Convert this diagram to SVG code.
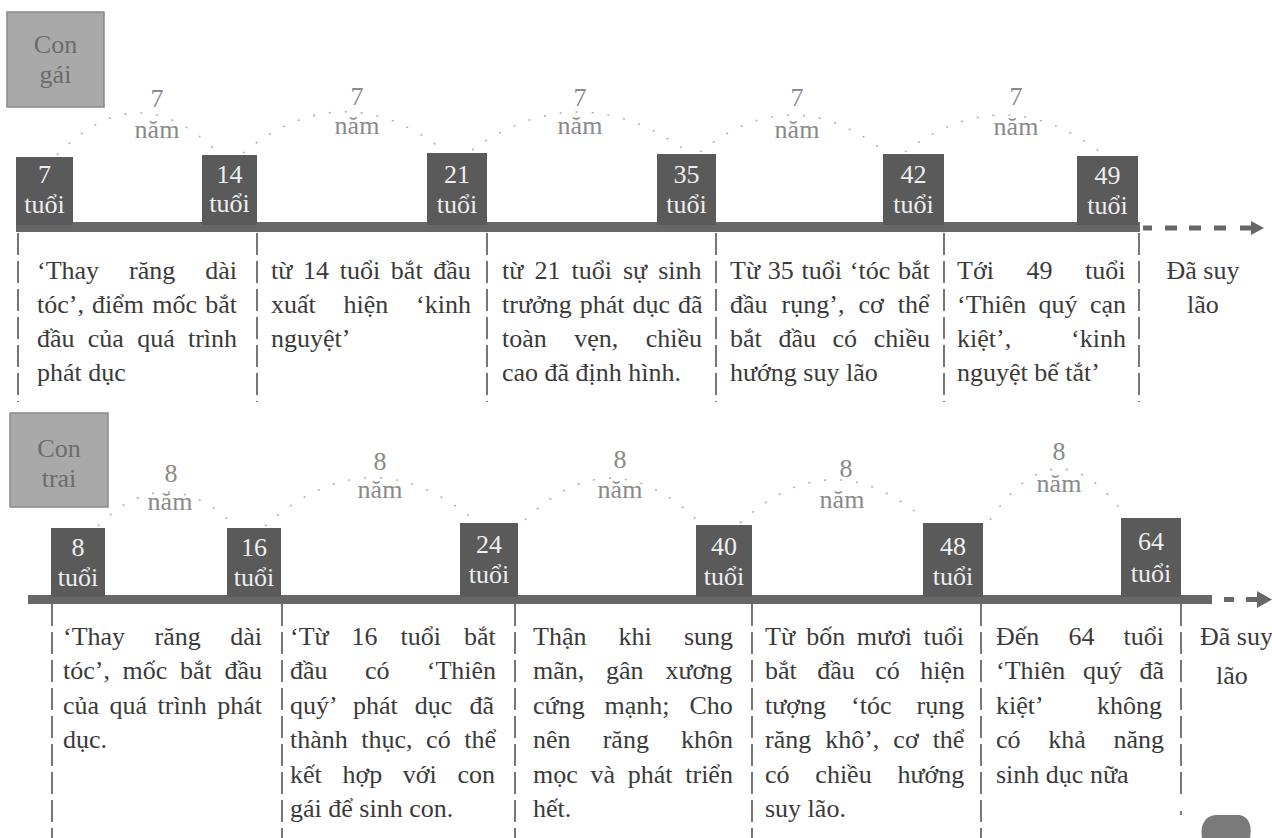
<svg xmlns="http://www.w3.org/2000/svg" width="1272" height="838" viewBox="0 0 1272 838">
<style>
text{font-family:"Liberation Serif","Times New Roman",serif;font-size:26px}
.side{fill:#a9a9a9;stroke:#8a8a8a;stroke-width:1.5}
.sidet{fill:#6c6c6c;text-anchor:middle}
.age{fill:#5a5a5a}
.aget{fill:#eeeeee;text-anchor:middle}
.bar{fill:#676767}
.lbl{fill:#8a8a8a;text-anchor:middle}
.desc text{fill:#3a3a3a}
.div{stroke:#555;stroke-width:1.6;stroke-dasharray:22 6;fill:none}
.arc{fill:none;stroke:#a8a8a8;stroke-width:1.4;stroke-dasharray:2 14}
</style>

<g id="connectors">
  <!-- row 1 timeline -->
  <rect class="bar" x="16" y="222" width="1124" height="10"/>
  <rect class="bar" x="1143" y="225.5" width="9" height="5"/>
  <rect class="bar" x="1165" y="225.5" width="12" height="5"/>
  <rect class="bar" x="1189" y="225.5" width="12" height="5"/>
  <rect class="bar" x="1214" y="225.5" width="12" height="5"/>
  <polygon class="bar" points="1240,225.5 1251,225.5 1251,221 1264,228 1251,235 1251,230.5 1240,230.5"/>
  <!-- row 2 timeline -->
  <rect class="bar" x="28" y="595" width="1184" height="9"/>
  <rect class="bar" x="1224" y="597" width="10" height="5"/>
  <polygon class="bar" points="1246,597 1257,597 1257,591 1272,599.5 1257,608 1257,602 1246,602"/>
  <!-- row 1 dividers -->
  <line class="div" x1="18" y1="233" x2="18" y2="402"/>
  <line class="div" x1="257" y1="233" x2="257" y2="402"/>
  <line class="div" x1="487" y1="233" x2="487" y2="402"/>
  <line class="div" x1="716" y1="233" x2="716" y2="402"/>
  <line class="div" x1="944" y1="233" x2="944" y2="402"/>
  <line class="div" x1="1139" y1="233" x2="1139" y2="402"/>
  <!-- row 2 dividers -->
  <line class="div" x1="52" y1="604" x2="52" y2="838"/>
  <line class="div" x1="282" y1="604" x2="282" y2="838"/>
  <line class="div" x1="515" y1="604" x2="515" y2="838"/>
  <line class="div" x1="752" y1="604" x2="752" y2="838"/>
  <line class="div" x1="981" y1="604" x2="981" y2="838"/>
  <line class="div" x1="1181" y1="604" x2="1181" y2="800"/>
  <line class="div" x1="1181" y1="811" x2="1181" y2="815"/>
  <!-- row 1 arcs -->
  <path class="arc" d="M57,155 Q138,72 218,153"/>
  <path class="arc" d="M243,153 Q343,72 443,150"/>
  <path class="arc" d="M472,150 Q578,74 685,150"/>
  <path class="arc" d="M700,152 Q792,78 885,152"/>
  <path class="arc" d="M905,152 Q1003,78 1100,152"/>
  <!-- row 2 arcs -->
  <path class="arc" d="M98,526 Q166,458 235,526"/>
  <path class="arc" d="M265,526 Q370,432 475,521"/>
  <path class="arc" d="M525,520 Q612,435 700,523"/>
  <path class="arc" d="M740,523 Q832,438 925,520"/>
  <path class="arc" d="M990,520 Q1058,420 1125,516"/>
</g>

<g id="girl-label">
  <rect class="side" x="7" y="12" width="97" height="95"/>
  <text class="sidet" x="55.5" y="53">Con</text>
  <text class="sidet" x="55.5" y="83">gái</text>
</g>
<g id="boy-label">
  <rect class="side" x="10" y="413" width="98" height="94"/>
  <text class="sidet" x="59" y="457">Con</text>
  <text class="sidet" x="59" y="487">trai</text>
</g>

<!-- row 1 ages -->
<g id="age-7"><rect class="age" x="16" y="157" width="57" height="68"/><text class="aget" x="44.5" y="183">7</text><text class="aget" x="44.5" y="213">tuổi</text></g>
<g id="age-14"><rect class="age" x="202" y="155" width="55" height="70"/><text class="aget" x="229.5" y="183">14</text><text class="aget" x="229.5" y="212">tuổi</text></g>
<g id="age-21"><rect class="age" x="427" y="153" width="60" height="72"/><text class="aget" x="457" y="183">21</text><text class="aget" x="457" y="213">tuổi</text></g>
<g id="age-35"><rect class="age" x="657" y="154" width="59" height="71"/><text class="aget" x="686.5" y="183">35</text><text class="aget" x="686.5" y="213">tuổi</text></g>
<g id="age-42"><rect class="age" x="883" y="154" width="61" height="71"/><text class="aget" x="913.5" y="183">42</text><text class="aget" x="913.5" y="213">tuổi</text></g>
<g id="age-49"><rect class="age" x="1077" y="156" width="61" height="69"/><text class="aget" x="1107.5" y="184">49</text><text class="aget" x="1107.5" y="214">tuổi</text></g>

<!-- row 2 ages -->
<g id="age-8"><rect class="age" x="51" y="528" width="54" height="69"/><text class="aget" x="78" y="556">8</text><text class="aget" x="78" y="586">tuổi</text></g>
<g id="age-16"><rect class="age" x="227" y="528" width="54" height="69"/><text class="aget" x="254" y="556">16</text><text class="aget" x="254" y="586">tuổi</text></g>
<g id="age-24"><rect class="age" x="460" y="523" width="58" height="74"/><text class="aget" x="489" y="553">24</text><text class="aget" x="489" y="583">tuổi</text></g>
<g id="age-40"><rect class="age" x="696" y="525" width="56" height="72"/><text class="aget" x="724" y="555">40</text><text class="aget" x="724" y="585">tuổi</text></g>
<g id="age-48"><rect class="age" x="923" y="523" width="60" height="74"/><text class="aget" x="953" y="555">48</text><text class="aget" x="953" y="585">tuổi</text></g>
<g id="age-64"><rect class="age" x="1121" y="518" width="60" height="79"/><text class="aget" x="1151" y="550">64</text><text class="aget" x="1151" y="582">tuổi</text></g>

<!-- interval labels -->
<g id="interval-g1"><text class="lbl" x="157" y="107">7</text><text class="lbl" x="157" y="138">năm</text></g>
<g id="interval-g2"><text class="lbl" x="357" y="105">7</text><text class="lbl" x="357" y="134">năm</text></g>
<g id="interval-g3"><text class="lbl" x="580" y="106">7</text><text class="lbl" x="580" y="134">năm</text></g>
<g id="interval-g4"><text class="lbl" x="797" y="106">7</text><text class="lbl" x="797" y="138">năm</text></g>
<g id="interval-g5"><text class="lbl" x="1016" y="105">7</text><text class="lbl" x="1016" y="135">năm</text></g>
<g id="interval-b1"><text class="lbl" x="171" y="482">8</text><text class="lbl" x="170" y="510">năm</text></g>
<g id="interval-b2"><text class="lbl" x="380" y="470">8</text><text class="lbl" x="380" y="498">năm</text></g>
<g id="interval-b3"><text class="lbl" x="620" y="468">8</text><text class="lbl" x="620" y="498">năm</text></g>
<g id="interval-b4"><text class="lbl" x="846" y="477">8</text><text class="lbl" x="842" y="508">năm</text></g>
<g id="interval-b5"><text class="lbl" x="1059" y="460">8</text><text class="lbl" x="1059" y="492">năm</text></g>

<!-- row 1 descriptions -->
<g id="desc-g1" class="desc">
  <text x="37" y="279" word-spacing="23.45">‘Thay răng dài</text>
  <text x="37" y="313" word-spacing="1.67">tóc’, điểm mốc bắt</text>
  <text x="37" y="347" word-spacing="6.77">đầu của quá trình</text>
  <text x="37" y="381">phát dục</text>
</g>
<g id="desc-g2" class="desc">
  <text x="271" y="279" word-spacing="4.2">từ 14 tuổi bắt đầu</text>
  <text x="271" y="313" word-spacing="21.25">xuất hiện ‘kinh</text>
  <text x="271" y="347">nguyệt’</text>
</g>
<g id="desc-g3" class="desc">
  <text x="502" y="279" word-spacing="4.57">từ 21 tuổi sự sinh</text>
  <text x="502" y="313" word-spacing="1.5">trưởng phát dục đã</text>
  <text x="502" y="347" word-spacing="20.95">toàn vẹn, chiều</text>
  <text x="502" y="381">cao đã định hình.</text>
</g>
<g id="desc-g4" class="desc">
  <text x="730" y="279" word-spacing="1.28">Từ 35 tuổi ‘tóc bắt</text>
  <text x="730" y="313" word-spacing="7.53">đầu rụng’, cơ thể</text>
  <text x="730" y="347" word-spacing="10.13">bắt đầu có chiều</text>
  <text x="730" y="381">hướng suy lão</text>
</g>
<g id="desc-g5" class="desc">
  <text x="957" y="279" word-spacing="26.05">Tới 49 tuổi</text>
  <text x="957" y="313" word-spacing="5.8">‘Thiên quý cạn</text>
  <text x="957" y="347" word-spacing="53.4">kiệt’, ‘kinh</text>
  <text x="957" y="381">nguyệt bế tắt’</text>
</g>
<g id="desc-g6" class="desc">
  <text x="1203" y="279" text-anchor="middle">Đã suy</text>
  <text x="1203" y="313" text-anchor="middle">lão</text>
</g>

<!-- row 2 descriptions -->
<g id="desc-b1" class="desc">
  <text x="63" y="645" word-spacing="22.95">‘Thay răng dài</text>
  <text x="63" y="679" word-spacing="6.17">tóc’, mốc bắt đầu</text>
  <text x="63" y="714" word-spacing="4">của quá trình phát</text>
  <text x="63" y="748">dục.</text>
</g>
<g id="desc-b2" class="desc">
  <text x="290" y="645" word-spacing="16.47">‘Từ 16 tuổi bắt</text>
  <text x="290" y="679" word-spacing="30.85">đầu có ‘Thiên</text>
  <text x="290" y="714" word-spacing="10.67">quý’ phát dục đã</text>
  <text x="290" y="748" word-spacing="7.03">thành thục, có thể</text>
  <text x="290" y="783" word-spacing="14.13">kết hợp với con</text>
  <text x="290" y="817">gái để sinh con.</text>
</g>
<g id="desc-b3" class="desc">
  <text x="533" y="645" word-spacing="25.65">Thận khi sung</text>
  <text x="533" y="679" word-spacing="15.3">mãn, gân xương</text>
  <text x="533" y="714" word-spacing="13.45">cứng mạnh; Cho</text>
  <text x="533" y="748" word-spacing="25.65">nên răng khôn</text>
  <text x="533" y="783" word-spacing="6.23">mọc và phát triển</text>
  <text x="533" y="817">hết.</text>
</g>
<g id="desc-b4" class="desc">
  <text x="765" y="645" word-spacing="4.9">Từ bốn mươi tuổi</text>
  <text x="765" y="679" word-spacing="13.97">bắt đầu có hiện</text>
  <text x="765" y="714" word-spacing="18.55">tượng ‘tóc rụng</text>
  <text x="765" y="748" word-spacing="7.5">răng khô’, cơ thể</text>
  <text x="765" y="783" word-spacing="19.3">có chiều hướng</text>
  <text x="765" y="817">suy lão.</text>
</g>
<g id="desc-b5" class="desc">
  <text x="996" y="645" word-spacing="22.6">Đến 64 tuổi</text>
  <text x="996" y="679" word-spacing="11.1">‘Thiên quý đã</text>
  <text x="996" y="714" word-spacing="48.8">kiệt’ không</text>
  <text x="996" y="748" word-spacing="21.25">có khả năng</text>
  <text x="996" y="783">sinh dục nữa</text>
</g>
<g id="desc-b6" class="desc">
  <text x="1200" y="645">Đã suy</text>
  <text x="1232" y="684" text-anchor="middle">lão</text>
</g>

<path d="M1202,838 C1200,826 1204,816 1216,815 L1240,815 C1250,817 1252,828 1250,838 Z" fill="#7a7a7a"/>
</svg>
